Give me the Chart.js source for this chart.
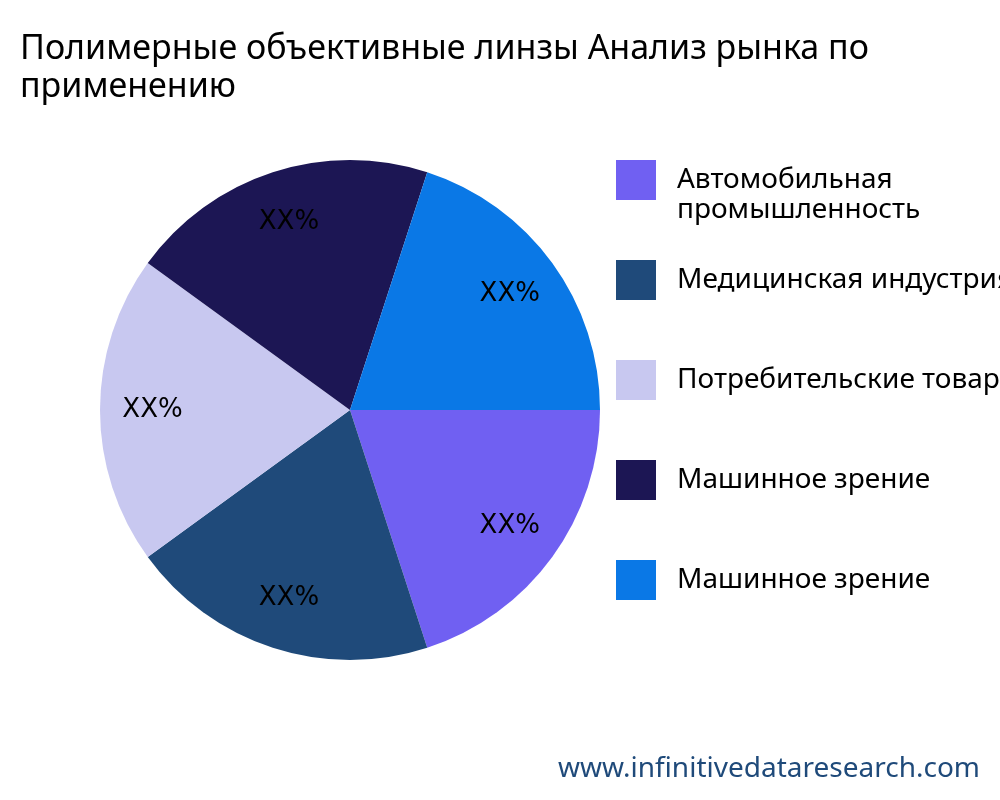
<!DOCTYPE html>
<html>
<head>
<meta charset="utf-8">
<script src="https://cdn.jsdelivr.net/npm/chart.js@4"></script>
<style>
  body { margin: 0; background: #fff; }
  canvas { display: block; }
</style>
</head>
<body>
<canvas id="chart" width="1000" height="800"></canvas>
<script>
const titleLines = ['Полимерные объективные линзы Анализ рынка по', 'применению'];
const categories = [
  ['Автомобильная', 'промышленность'],
  ['Медицинская индустрия'],
  ['Потребительские товары'],
  ['Машинное зрение'],
  ['Машинное зрение'],
];
const shares = [20, 20, 20, 20, 20];
const sliceLabels = ['XX%', 'XX%', 'XX%', 'XX%', 'XX%'];
const colors = ['#7060F2', '#1F4A7A', '#C8C8F0', '#1C1654', '#0A78E6'];
const watermark = 'www.infinitivedataresearch.com';

const FONT = '"Noto Sans", "Open Sans", sans-serif';

// draws title, legend, slice labels and the site address on the canvas
const decorations = {
  id: 'decorations',
  afterDraw(chart) {
    const ctx = chart.ctx;
    ctx.save();
    ctx.fillStyle = '#000';
    ctx.textBaseline = 'alphabetic';
    ctx.font = '34px ' + FONT;
    titleLines.forEach((line, i) => ctx.fillText(line, 20, 59 + i * 38));

    ctx.textBaseline = 'middle';
    ctx.font = '28px ' + FONT;
    categories.forEach((lines, i) => {
      const y = 180 + i * 100;
      ctx.fillStyle = colors[i];
      ctx.fillRect(616, y - 20, 40, 40);
      ctx.fillStyle = '#000';
      lines.forEach((t, j) => ctx.fillText(t, 677, y + j * 30));
    });

    const meta = chart.getDatasetMeta(0);
    ctx.textAlign = 'center';
    ctx.font = '26px "DejaVu Sans", sans-serif';
    meta.data.forEach((arc, i) => {
      const mid = (arc.startAngle + arc.endAngle) / 2;
      const r = arc.outerRadius * 0.79;
      ctx.fillText(sliceLabels[i], arc.x + Math.cos(mid) * r, arc.y + Math.sin(mid) * r);
    });

    ctx.textAlign = 'right';
    ctx.fillStyle = '#1F4A7A';
    ctx.font = '28px ' + FONT;
    ctx.fillText(watermark, 980, 769);
    ctx.restore();
  }
};

new Chart(document.getElementById('chart'), {
  type: 'pie',
  data: {
    labels: categories.map(c => c.join(' ')),
    datasets: [{
      data: shares,
      backgroundColor: colors,
      borderWidth: 0,
    }],
  },
  options: {
    responsive: false,
    animation: false,
    rotation: 90,
    layout: { padding: { left: 100, right: 400, top: 160, bottom: 140 } },
    plugins: {
      legend: { display: false },
      tooltip: { enabled: false },
    },
  },
  plugins: [decorations],
});
</script>
</body>
</html>
